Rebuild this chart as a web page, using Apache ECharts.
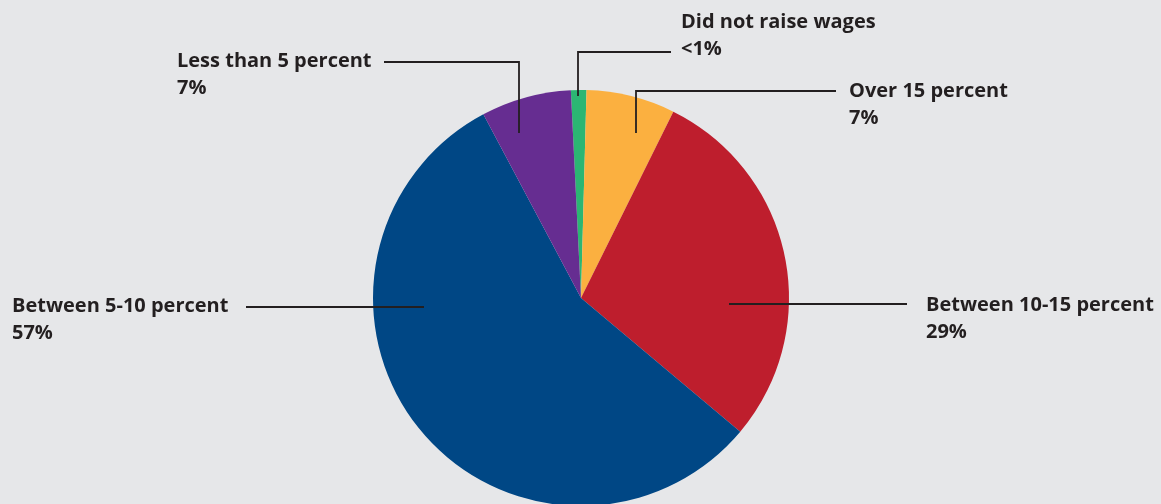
<!DOCTYPE html>
<html>
<head>
<meta charset="utf-8">
<script src="https://cdn.jsdelivr.net/npm/echarts@6/dist/echarts.min.js"></script>
<style>
html,body{margin:0;padding:0;background:#e6e7e9;}
#chart{width:1161px;height:504px;}
</style>
</head>
<body>
<div id="chart"></div>
<script>
// Data (clockwise from top)
const categories = ['Did not raise wages', 'Over 15 percent', 'Between 10-15 percent', 'Between 5-10 percent', 'Less than 5 percent'];
const values = [1.2, 6.9, 28.8, 56.1, 7.0];
const pctLabels = ['<1%', '7%', '29%', '57%', '7%'];
const colors = ['#2bb673', '#fbb040', '#be1e2d', '#004785', '#662d91'];

// Layout (pixels): pie geometry and label / guide positions
const CX = 581, CY = 298, R = 208;
const guides = [
  { lx: 681, ly: 22,  ax: -3,   ay: -202, ey: 52,  ex: 671 },
  { lx: 849, ly: 91,  ax: 55,   ay: -165, ey: 91,  ex: 836 },
  { lx: 926, ly: 305, ax: 148,  ay: 6,    ey: 304, ex: 907 },
  { lx: 12,  ly: 306, ax: -157, ay: 9,    ey: 307, ex: 246 },
  { lx: 177, ly: 61,  ax: -62,  ay: -165, ey: 62,  ex: 384 }
];
const LH = 27;
const FONT = 'Open Sans';

const baseSeries = {
  type: 'pie',
  center: [CX, CY],
  radius: R,
  startAngle: 92.8,
  clockwise: true,
  avoidLabelOverlap: false
};

const chart = echarts.init(document.getElementById('chart'), null, { renderer: 'canvas' });
chart.setOption({
  backgroundColor: '#e6e7e9',
  animation: false,
  series: [
    Object.assign({}, baseSeries, {
      z: 1,
      silent: true,
      data: categories.map((c, i) => ({ name: c, value: values[i], itemStyle: { color: colors[i] } })),
      itemStyle: { borderWidth: 0 },
      label: { show: false },
      labelLine: { show: false }
    }),
    Object.assign({}, baseSeries, {
      z: 5,
      silent: true,
      data: categories.map((c, i) => ({ name: c, value: values[i] })),
      itemStyle: { color: 'rgba(0,0,0,0)', borderWidth: 0 },
      label: {
        show: true,
        position: 'outside',
        formatter: p => p.name + '\n' + pctLabels[p.dataIndex],
        fontFamily: FONT,
        fontWeight: 'bold',
        fontSize: 20,
        lineHeight: LH,
        color: '#231f20'
      },
      labelLine: {
        show: true,
        lineStyle: { color: '#231f20', width: 1.8 }
      },
      labelLayout: function (params) {
        const g = guides[params.dataIndex];
        const ax = CX + g.ax, ay = CY + g.ay;
        const pts = (Math.abs(g.ey - ay) < 12)
          ? [[ax, g.ey], [(ax + g.ex) / 2, g.ey], [g.ex, g.ey]]
          : [[ax, ay], [ax, g.ey], [g.ex, g.ey]];
        return {
          x: g.lx,
          y: g.ly - LH / 2,
          align: 'left',
          verticalAlign: 'top',
          labelLinePoints: pts
        };
      }
    })
  ]
});
</script>
</body>
</html>
